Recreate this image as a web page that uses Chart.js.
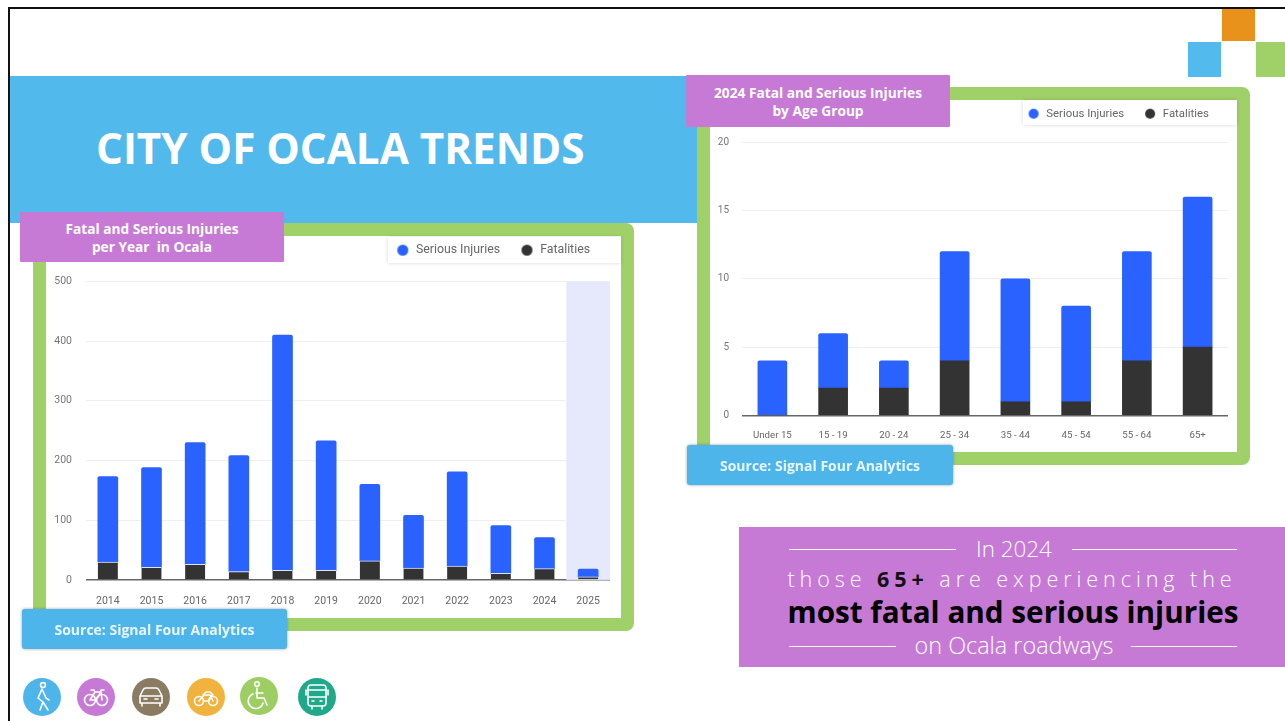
<!DOCTYPE html>
<html>
<head>
<meta charset="utf-8">
<title>City of Ocala Trends</title>
<script src="https://cdn.jsdelivr.net/npm/chart.js@4"></script>
<style>
html,body{margin:0;padding:0;background:#fff;}
body{width:1285px;height:721px;position:relative;overflow:hidden;font-family:"Open Sans","Noto Sans",sans-serif;}
.abs{position:absolute;box-sizing:border-box;}
.frame{background:#fff;border:13px solid #A0D168;border-radius:8px;}
.label{background:#C67AD6;color:#fff;font-weight:700;font-size:13.7px;line-height:18px;padding-top:2px;text-align:center;display:flex;align-items:center;justify-content:center;border-radius:1px;}
.source{background:#4DB5EA;color:#e8f6ff;font-weight:700;font-size:14px;display:flex;align-items:center;justify-content:center;border-radius:3px;box-shadow:0 0 3px rgba(70,70,70,.55);filter:blur(.4px);}
.legendbox{background:#fff;box-shadow:0 0 4px rgba(0,0,0,.16);}
canvas{filter:blur(.45px);}
.callout{left:739px;top:527px;width:546px;height:140px;background:#C67AD6;color:#fff;}
.row{position:absolute;left:0;width:100%;text-align:center;white-space:nowrap;}
.rule{position:absolute;height:1px;background:#fff;}
</style>
</head>
<body>
<!-- slide border and corner squares -->
<div class="abs" style="left:8px;top:7px;width:1277px;height:2px;background:#111"></div>
<div class="abs" style="left:8px;top:7px;width:2px;height:714px;background:#111"></div>
<div class="abs" style="left:1222px;top:9px;width:33px;height:32px;background:#E8921C"></div>
<div class="abs" style="left:1188px;top:42px;width:33px;height:35px;background:#52BAEC"></div>
<div class="abs" style="left:1256px;top:42px;width:29px;height:35px;background:#A0D168"></div>

<!-- heading band -->
<div class="abs" style="left:10px;top:76px;width:687px;height:147px;background:#52B9EC"></div>
<div class="abs" style="left:96px;top:120px;color:#fff;font-weight:700;font-size:42.2px;line-height:56px;white-space:nowrap">CITY OF OCALA TRENDS</div>

<!-- yearly panel -->
<div class="abs frame" style="left:33px;top:223px;width:601px;height:408px"></div>
<div class="abs legendbox" style="left:388px;top:237px;width:233px;height:26px"></div>
<canvas id="yearChart" class="abs" width="575" height="394" style="left:46px;top:224px;width:575px;height:394px"></canvas>
<div class="abs label" style="left:20px;top:212px;width:264px;height:50px">Fatal and Serious Injuries<br>per Year&nbsp; in Ocala</div>
<div class="abs source" style="left:22px;top:609px;width:265px;height:40px">Source: Signal Four Analytics</div>

<!-- age group panel -->
<div class="abs frame" style="left:697px;top:87px;width:553px;height:378px"></div>
<div class="abs legendbox" style="left:1023px;top:100px;width:214px;height:25px"></div>
<canvas id="ageChart" class="abs" width="528" height="363" style="left:709px;top:89px;width:528px;height:363px"></canvas>
<div class="abs label" style="left:686px;top:75px;width:264px;height:52px">2024 Fatal and Serious Injuries<br>by Age Group</div>
<div class="abs source" style="left:687px;top:445px;width:266px;height:40px">Source: Signal Four Analytics</div>

<!-- call-out -->
<div class="abs callout">
  <div class="rule" style="left:50px;top:22px;width:167px"></div>
  <div class="rule" style="left:333px;top:22px;width:165px"></div>
  <div class="row" style="top:7px;left:2px;font-size:22.4px;line-height:30px;font-weight:300">In 2024</div>
  <div class="row" style="top:37px;left:0;font-size:21.5px;line-height:30px;font-weight:300;letter-spacing:4.95px;">those <b style="color:#111;font-weight:700">65+</b> are experiencing the</div>
  <div class="row" style="top:64px;left:1px;font-size:29.7px;line-height:42px;font-weight:700;color:#000">most fatal and serious injuries</div>
  <div class="rule" style="left:50px;top:119px;width:107px"></div>
  <div class="rule" style="left:392px;top:119px;width:106px"></div>
  <div class="row" style="top:103px;left:2px;font-size:23.4px;line-height:30px;font-weight:300">on Ocala roadways</div>
</div>

<!-- road-user icons -->
<svg class="abs" style="left:0;top:670px;filter:blur(.4px)" width="345" height="51" fill="none" stroke="#fff" stroke-width="1.6" stroke-linecap="round" stroke-linejoin="round">
  <circle cx="42" cy="27" r="19" fill="#4DB5EA" stroke="none"/>
  <circle cx="43" cy="15" r="2.4"/><path d="M42 19l-4 9 5 4-3 8M42 19l4 9 3 2M43 32l5 8"/>
  <circle cx="96" cy="27" r="19" fill="#C67AD6" stroke="none"/>
  <circle cx="90" cy="30" r="5.5"/><circle cx="102" cy="30" r="5.5"/><path d="M90 30l5-8h6l1 8M95 22l-1-2h-3M101 22v-2h3M90 30h6l5-8"/>
  <circle cx="151" cy="27" r="19" fill="#8C7B63" stroke="none"/>
  <path d="M140 33v-7l3-6q1-2 3-2h10q2 0 3 2l3 6v7zM140 26h22M142 33v3M160 33v3M144 29h3M155 29h3"/>
  <circle cx="206" cy="27" r="19" fill="#F2B23E" stroke="none"/>
  <circle cx="199" cy="31" r="4.5"/><circle cx="213" cy="31" r="4.5"/><path d="M199 31l5-6h6l3 6M203 25l3-3h4l3 3M204 31h5l3-6"/>
  <circle cx="259" cy="26" r="19" fill="#9DCE63" stroke="none"/>
  <circle cx="257" cy="14" r="2.3"/><path d="M257 18v10h7l3 7M256 23h7M253 24a7.5 7.5 0 1 0 10 9"/>
  <circle cx="317" cy="27" r="19" fill="#1FA88A" stroke="none"/>
  <rect x="308" y="15" width="18" height="21" rx="3"/><path d="M308 27h18M308 20h18M306 20v5M328 20v5M312 36v3M322 36v3M312 31h2M320 31h2"/>
</svg>

<script>
// Injury counts by crash year
const years = ["2014","2015","2016","2017","2018","2019","2020","2021","2022","2023","2024","2025"];
const yearFatalities = [30,21,26,14,16,16,32,20,23,11,19,5];
const yearSerious = [143,167,204,194,394,217,128,88,158,80,52,13];
const yearTicks = [0,100,200,300,400,500];

// 2024 injury counts by age group
const ageGroups = ["Under 15","15 - 19","20 - 24","25 - 34","35 - 44","45 - 54","55 - 64","65+"];
const ageFatalities = [0,2,2,4,1,1,4,5];
const ageSerious = [4,4,2,8,9,7,8,11];
const ageTicks = [0,5,10,15,20];

const seriesNames = {serious:"Serious Injuries", fatal:"Fatalities"};
const partialYear = "2025";

// Shades the column of the year still in progress
const partialBand = {
  id:"partialBand",
  beforeDatasetsDraw(chart){
    const idx = chart.data.labels.indexOf(partialYear);
    if(idx < 0) return;
    const x = chart.scales.x, y = chart.scales.y;
    const half = (x.getPixelForValue(1) - x.getPixelForValue(0)) / 2;
    const c = chart.ctx;
    c.save();
    c.fillStyle = "#E6E8FB";
    c.fillRect(x.getPixelForValue(idx) - half, y.top, half*2, y.bottom - y.top);
    c.restore();
  }
};

// Small round swatch for a legend entry
function legendDot(color, size){
  const cv = document.createElement("canvas");
  cv.width = cv.height = size + 2;
  const c = cv.getContext("2d");
  c.fillStyle = color;
  c.beginPath();
  c.arc(size/2 + 1, size/2 + 1, size/2, 0, Math.PI*2);
  c.fill();
  return cv;
}

// Leaves extra room between the legend and the plot
function legendGap(extra){
  return {
    id:"legendGap",
    afterInit(chart){
      const legend = chart.legend, fit = legend.fit;
      legend.fit = function(){ fit.call(this); this.height += extra; };
    }
  };
}

function stackedChart(id, labels, fatal, serious, ticks, o){
  return new Chart(document.getElementById(id), {
    type:"bar",
    data:{labels, datasets:[
      {label:seriesNames.fatal, data:fatal, backgroundColor:"#333333", stack:"s",
       barThickness:o.bar, borderColor:"#dfe6fb", borderWidth:{top:o.gap}, borderSkipped:false},
      {label:seriesNames.serious, data:serious, backgroundColor:"#2962FF", stack:"s",
       barThickness:o.bar, borderRadius:{topLeft:2,topRight:2}, borderSkipped:false}
    ]},
    options:{
      responsive:false, animation:false,
      layout:{padding:o.padding},
      plugins:{
        tooltip:{enabled:false},
        legend:{position:"top", align:"end", reverse:true,
          labels:{usePointStyle:true, pointStyleWidth:14, padding:o.legendPad,
                  color:"#666", font:{family:"Roboto", size:o.legendFont},
                  generateLabels(chart){
                    const items = Chart.defaults.plugins.legend.labels.generateLabels(chart);
                    items.forEach(it => { it.pointStyle = legendDot(it.fillStyle, o.dot); });
                    return items;
                  }}}
      },
      scales:{
        x:{stacked:true, grid:{display:false}, border:{display:false},
           ticks:{color:"#666", font:{family:"Roboto", size:o.xFont}, padding:o.xPad, autoSkip:false, maxRotation:0}},
        y:{stacked:true, min:0, max:ticks[ticks.length-1], afterBuildTicks(s){s.ticks = ticks.map(v=>({value:v}));},
           afterFit(s){s.width = o.yWidth;},
           grid:{color:c=>c.tick.value===0?"#666":"#efefef", lineWidth:c=>c.tick.value===0?1.5:1, drawTicks:false},
           border:{display:false},
           ticks:{color:"#777", font:{family:"Roboto", size:o.yFont}, padding:o.yPad}}
      }
    },
    plugins:[partialBand, legendGap(o.legendGap)]
  });
}

stackedChart("yearChart", years, yearFatalities, yearSerious, yearTicks,
  {bar:20, gap:1, dot:11, legendPad:20, legendGap:15, legendFont:12.3, xFont:10.5, yFont:10.5, xPad:7, yPad:14,
   yWidth:40, padding:{left:0,right:11,top:0,bottom:3.5}});
stackedChart("ageChart", ageGroups, ageFatalities, ageSerious, ageTicks,
  {bar:29, gap:0, dot:10, legendPad:19, legendGap:13, legendFont:11.4, xFont:9.7, yFont:10, xPad:6, yPad:13,
   yWidth:33, padding:{left:0,right:9,top:0,bottom:5}});
</script>
</body>
</html>
